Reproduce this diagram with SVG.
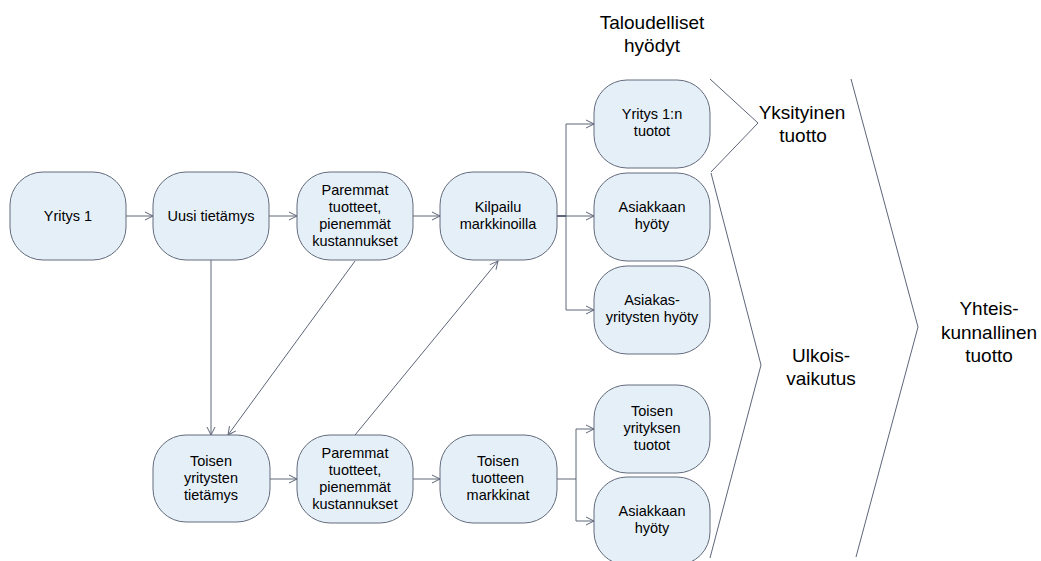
<svg xmlns="http://www.w3.org/2000/svg" width="1041" height="561" viewBox="0 0 1041 561">
  <style>
    .box { fill: #e5eff8; stroke: #636b7c; stroke-width: 1; }
    .lbl { font-family: "Liberation Sans", Arial, sans-serif; font-size: 14.5px; fill: #000; text-anchor: middle; }
    .big { font-family: "Liberation Sans", Arial, sans-serif; font-size: 19px; fill: #000; text-anchor: middle; }
    .conn { fill: none; stroke: #5d6678; stroke-width: 1; }
    .chev { fill: none; stroke: #5d6678; stroke-width: 1; }
  </style>
  <defs>
    <marker id="arrow" viewBox="0 0 10 10" refX="9" refY="5" markerWidth="10" markerHeight="10" markerUnits="userSpaceOnUse" orient="auto">
      <path d="M1,1 L9,5 L1,9" fill="none" stroke="#5d6678" stroke-width="1"/>
    </marker>
  </defs>
  <rect width="1041" height="561" fill="#ffffff"/>

  <!-- connectors -->
  <g id="connectors" class="conn">
    <line x1="126" y1="216" x2="153" y2="216" marker-end="url(#arrow)"/>
    <line x1="269" y1="216" x2="297" y2="216" marker-end="url(#arrow)"/>
    <line x1="413" y1="216" x2="440" y2="216" marker-end="url(#arrow)"/>
    <line x1="557" y1="216" x2="566" y2="216" stroke-width="2"/>
    <polyline points="566,216 566,124 594,124" marker-end="url(#arrow)"/>
    <line x1="566" y1="216" x2="594" y2="216" marker-end="url(#arrow)"/>
    <polyline points="566,216 566,310 594,310" marker-end="url(#arrow)"/>
    <line x1="211" y1="260" x2="211" y2="435" marker-end="url(#arrow)"/>
    <line x1="355" y1="261" x2="228" y2="435" marker-end="url(#arrow)"/>
    <line x1="355" y1="435" x2="498" y2="261" marker-end="url(#arrow)"/>
    <line x1="270" y1="479" x2="297" y2="479" marker-end="url(#arrow)"/>
    <line x1="413" y1="479" x2="440" y2="479" marker-end="url(#arrow)"/>
    <line x1="557" y1="479" x2="576" y2="479"/>
    <polyline points="576,479 576,429 594,429" marker-end="url(#arrow)"/>
    <polyline points="576,479 576,521 594,521" marker-end="url(#arrow)"/>
  </g>

  <!-- grouping chevrons -->
  <g id="chevrons" class="chev">
    <polyline points="710,79 758,123 711,172"/>
    <polyline points="711,173 761,365 710,558"/>
    <polyline points="851,79 918,327 856,557"/>
  </g>

  <!-- nodes -->
  <g id="n-yritys1">
    <rect class="box" x="10" y="172" width="116" height="88" rx="33"/>
    <text class="lbl" x="68" y="221">Yritys 1</text>
  </g>
  <g id="n-uusi-tietamys">
    <rect class="box" x="153" y="172" width="116" height="88" rx="33"/>
    <text class="lbl" x="211" y="221">Uusi tietämys</text>
  </g>
  <g id="n-paremmat-1">
    <rect class="box" x="297" y="172" width="116" height="88" rx="33"/>
    <text class="lbl" x="355" y="195">Paremmat</text>
    <text class="lbl" x="355" y="212">tuotteet,</text>
    <text class="lbl" x="355" y="229">pienemmät</text>
    <text class="lbl" x="355" y="246">kustannukset</text>
  </g>
  <g id="n-kilpailu">
    <rect class="box" x="440" y="172" width="117" height="88" rx="33"/>
    <text class="lbl" x="498" y="212">Kilpailu</text>
    <text class="lbl" x="498" y="229">markkinoilla</text>
  </g>
  <g id="n-yritys1-tuotot">
    <rect class="box" x="594" y="80" width="116" height="88" rx="33"/>
    <text class="lbl" x="652" y="119">Yritys 1:n</text>
    <text class="lbl" x="652" y="136">tuotot</text>
  </g>
  <g id="n-asiakkaan-hyoty-1">
    <rect class="box" x="594" y="173" width="116" height="88" rx="33"/>
    <text class="lbl" x="652" y="212">Asiakkaan</text>
    <text class="lbl" x="652" y="229">hyöty</text>
  </g>
  <g id="n-asiakasyritysten-hyoty">
    <rect class="box" x="594" y="266" width="116" height="88" rx="33"/>
    <text class="lbl" x="652" y="305">Asiakas-</text>
    <text class="lbl" x="652" y="322">yritysten hyöty</text>
  </g>
  <g id="n-toisen-tietamys">
    <rect class="box" x="153" y="435" width="117" height="87" rx="33"/>
    <text class="lbl" x="211" y="466">Toisen</text>
    <text class="lbl" x="211" y="483">yritysten</text>
    <text class="lbl" x="211" y="500">tietämys</text>
  </g>
  <g id="n-paremmat-2">
    <rect class="box" x="297" y="435" width="116" height="88" rx="33"/>
    <text class="lbl" x="355" y="458">Paremmat</text>
    <text class="lbl" x="355" y="475">tuotteet,</text>
    <text class="lbl" x="355" y="492">pienemmät</text>
    <text class="lbl" x="355" y="509">kustannukset</text>
  </g>
  <g id="n-toisen-markkinat">
    <rect class="box" x="440" y="435" width="117" height="88" rx="33"/>
    <text class="lbl" x="498" y="466">Toisen</text>
    <text class="lbl" x="498" y="483">tuotteen</text>
    <text class="lbl" x="498" y="500">markkinat</text>
  </g>
  <g id="n-toisen-tuotot">
    <rect class="box" x="594" y="385" width="116" height="88" rx="33"/>
    <text class="lbl" x="652" y="416">Toisen</text>
    <text class="lbl" x="652" y="433">yrityksen</text>
    <text class="lbl" x="652" y="450">tuotot</text>
  </g>
  <g id="n-asiakkaan-hyoty-2">
    <rect class="box" x="594" y="477" width="116" height="88" rx="33"/>
    <text class="lbl" x="652" y="516">Asiakkaan</text>
    <text class="lbl" x="652" y="533">hyöty</text>
  </g>

  <!-- headings and group labels -->
  <g id="t-taloudelliset">
    <text class="big" x="652" y="29">Taloudelliset</text>
    <text class="big" x="652" y="52">hyödyt</text>
  </g>
  <g id="t-yksityinen">
    <text class="big" x="802" y="119">Yksityinen</text>
    <text class="big" x="803" y="142">tuotto</text>
  </g>
  <g id="t-ulkois">
    <text class="big" x="821" y="362">Ulkois-</text>
    <text class="big" x="821" y="385">vaikutus</text>
  </g>
  <g id="t-yhteis">
    <text class="big" x="989" y="315">Yhteis-</text>
    <text class="big" x="989" y="339">kunnallinen</text>
    <text class="big" x="989" y="362">tuotto</text>
  </g>
</svg>
